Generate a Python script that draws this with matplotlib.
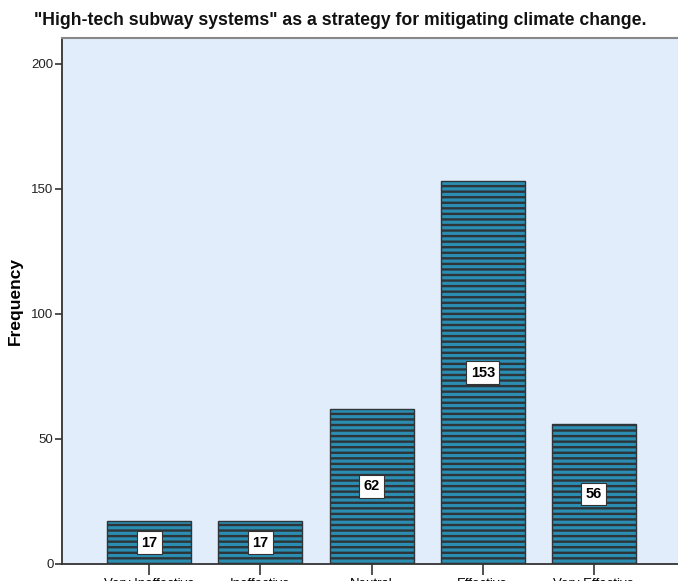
import numpy as np
import matplotlib.pyplot as plt

categories = ["Very Ineffective", "Ineffective", "Neutral", "Effective", "Very Effective"]
counts = [17, 17, 62, 153, 56]
yticks = [0, 50, 100, 150, 200]

plt.rcParams['font.family'] = ['Liberation Sans', 'DejaVu Sans']
plt.rcParams['hatch.linewidth'] = 1.7
plt.rcParams['hatch.color'] = '#1e5566'

fig = plt.figure(figsize=(6.78, 5.81), dpi=100)
ax = fig.add_axes([0.0914, 0.0293, 0.9126, 0.9053])
ax.set_facecolor('#e1edfb')

x = np.arange(len(categories))
bars = ax.bar(x, counts, width=0.755, color='#2b8db2', edgecolor='#2d3538',
              linewidth=1.0, hatch='---', zorder=2)

# value boxes in the middle of each bar
for xi, c in zip(x, counts):
    ax.text(xi, c / 2, str(c), ha='center', va='center', fontsize=10.5,
            fontweight='bold', color='black', zorder=3,
            bbox=dict(boxstyle='square,pad=0.3', facecolor='white',
                      edgecolor='#333333', linewidth=0.8))

ax.set_xlim(-0.785, 4.78)
ax.set_ylim(0, 210.4)
ax.set_yticks(yticks)
ax.set_xticks(x)
ax.set_xticklabels(categories, fontsize=9.5)
ax.tick_params(axis='y', length=5, width=1.2, pad=1, labelsize=9.5, color='#333333',
               labelcolor='#222222')
ax.tick_params(axis='x', length=8, width=1.2, pad=2, color='#333333')

for s in ['left', 'bottom']:
    ax.spines[s].set_color('#333333')
    ax.spines[s].set_linewidth(1.3)
ax.spines['top'].set_color('#888888')
ax.spines['top'].set_linewidth(1.5)
ax.spines['right'].set_visible(False)

ax.set_ylabel('Frequency', fontsize=12.5, fontweight='bold', labelpad=6)
fig.text(0.502, 0.965, '"High-tech subway systems" as a strategy for mitigating climate change.',
         ha='center', va='center', fontsize=12.7, fontweight='bold', color='#111111')

fig.savefig('out.png', dpi=100)
